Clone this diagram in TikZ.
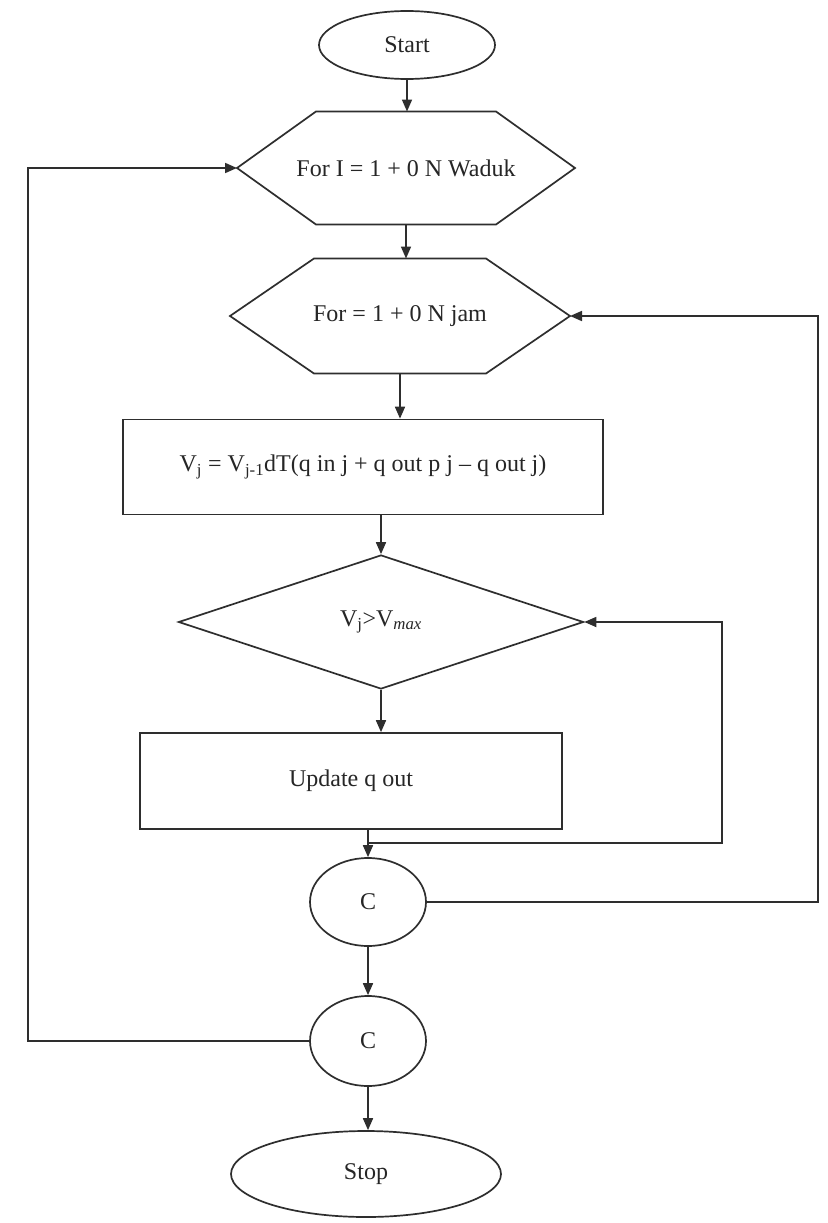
\documentclass[tikz,border=0pt]{standalone}
\usepackage{fontspec}
\setmainfont{Liberation Serif}
\usetikzlibrary{shapes.geometric,arrows.meta,calc}

\begin{document}
\begin{tikzpicture}[x=1pt,y=-1pt,
  font=\fontsize{24}{28}\selectfont,
  ink/.style={line width=1.7pt,draw=black!82},
  flow/.style={ink,-{Triangle[length=12pt,width=10pt]}},
  term/.style={ellipse,ink,inner sep=0pt,text=black!85},
  box/.style={rectangle,ink,inner sep=0pt,text=black!85},
  hexcore/.style={rectangle,draw=none,inner sep=0pt,text=black!85},
  test/.style={diamond,ink,inner sep=0pt,text=black!85}]

\useasboundingbox (0,0) rectangle (827,1223);
\fill[white] (0,0) rectangle (827,1223);

% terminals
\node[term,minimum width=176pt,minimum height=68pt] (start) at (407,45) {Start};

% outer loop header: flat half width 90, half height 56.5, tips 169 out
\node[hexcore] (h1) at (406,168) {For I = 1 + 0 N Waduk};
\coordinate (h1w) at ($(h1.center)+(-169,0)$);
\coordinate (h1e) at ($(h1.center)+(169,0)$);
\coordinate (h1n) at ($(h1.center)+(0,-56.5)$);
\coordinate (h1s) at ($(h1.center)+(0,56.5)$);
\draw[ink] ($(h1.center)+(-90,-56.5)$) -- ($(h1.center)+(90,-56.5)$) -- (h1e)
  -- ($(h1.center)+(90,56.5)$) -- ($(h1.center)+(-90,56.5)$) -- (h1w) -- cycle;

% inner loop header: flat half width 86, half height 57.5, tips 170 out
\node[hexcore] (h2) at (400,316) {For = 1 + 0 N jam};
\coordinate (h2w) at ($(h2.center)+(-170,0)$);
\coordinate (h2e) at ($(h2.center)+(170,0)$);
\coordinate (h2n) at ($(h2.center)+(0,-57.5)$);
\coordinate (h2s) at ($(h2.center)+(0,57.5)$);
\draw[ink] ($(h2.center)+(-86,-57.5)$) -- ($(h2.center)+(86,-57.5)$) -- (h2e)
  -- ($(h2.center)+(86,57.5)$) -- ($(h2.center)+(-86,57.5)$) -- (h2w) -- cycle;

% volume balance
\node[box,minimum width=480pt,minimum height=95pt] (vol) at (363,467)
  {V\textsubscript{j} = V\textsubscript{j-1}dT(q in j + q out p j -- q out j)};

% capacity check
\node[test,minimum width=405pt,minimum height=134pt] (chk) at (381,622)
  {V\textsubscript{j}>V\textsubscript{\itshape max}};

\node[box,minimum width=422pt,minimum height=96pt] (upd) at (351,781) {Update q out};

% connectors
\node[term,minimum width=116pt,minimum height=88pt] (c1) at (368,902) {C};
\node[term,minimum width=116pt,minimum height=90pt] (c2) at (368,1041) {C};
\node[term,minimum width=270pt,minimum height=86pt] (stop) at (366,1174) {Stop};

% main flow
\draw[flow] (start.south) -- (start.south |- h1n);
\draw[flow] (h1s) -- (h1s |- h2n);
\draw[flow] (h2s) -- (h2s |- vol.north);
\draw[flow] (vol.south -| chk.north) -- (chk.north);
\draw[flow] (chk.south) -- (chk.south |- upd.north);
\draw[flow] (upd.south -| c1.north) -- (c1.north);
\draw[flow] (c1.south) -- (c2.north);
\draw[flow] (c2.south) -- (c2.south |- stop.north);

% loop back to the capacity check
\coordinate (j1) at ($(upd.south -| c1.north)+(0,13)$);
\coordinate (r1) at (722,0);
\draw[flow] (j1) -- (j1 -| r1) -- (chk.east -| r1) -- (chk.east);

% loop back to the hourly header
\coordinate (r2) at (818,0);
\draw[flow] (c1.east) -- (c1.east -| r2) -- (h2e -| r2) -- (h2e);

% loop back to the reservoir header
\coordinate (l1) at (28,0);
\draw[flow] (c2.west) -- (c2.west -| l1) -- (h1w -| l1) -- (h1w);

\end{tikzpicture}
\end{document}
